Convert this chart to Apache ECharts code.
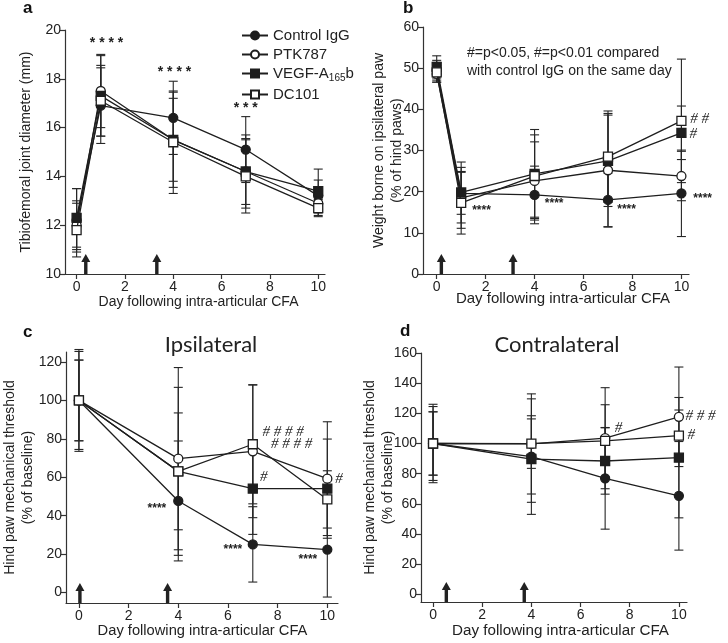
<!DOCTYPE html>
<html><head><meta charset="utf-8">
<script src="https://cdn.jsdelivr.net/npm/echarts@6/dist/echarts.min.js"></script>
<style>html,body{margin:0;padding:0;background:#fff}#c{width:728px;height:643px}</style>
</head><body><div id="c"></div>
<script>
// ---------- data ----------
const groups = ['Control IgG', 'PTK787', 'VEGF-A165b', 'DC101'];
const daysAB = [0, 1, 4, 7, 10];
const daysCD = [0, 4, 7, 10];
const xTicks = [0, 2, 4, 6, 8, 10];
const yTicksA = [10, 12, 14, 16, 18, 20];
const yTicksB = [0, 10, 20, 30, 40, 50, 60];
const yTicksC = [0, 20, 40, 60, 80, 100, 120];
const yTicksD = [0, 20, 40, 60, 80, 100, 120, 140, 160];
const xTitle = 'Day following intra-articular CFA';

// a: tibiofemoral joint diameter (mm), mean and SD
const aCtrl = [12.2, 16.9, 16.4, 15.1, 13.2];
const aCtrlSd = [1.3, 1.55, 1.5, 1.35, 0.65];
const aPtk = [12.0, 17.5, 15.5, 14.2, 12.9];
const aPtkSd = [1.0, 1.5, 1.7, 1.5, 0.5];
const aVegf = [12.3, 17.3, 15.5, 14.2, 13.4];
const aVegfSd = [1.2, 1.65, 1.95, 1.35, 0.9];
const aDc = [11.8, 17.1, 15.4, 14.0, 12.7];
const aDcSd = [1.1, 1.45, 2.1, 1.5, 0.35];

// b: weight borne on ipsilateral paw (%)
const bCtrl = [49.5, 19.6, 19.2, 18.0, 19.6];
const bCtrlSd = [2.4, 5.1, 7.0, 6.5, 10.5];
const bPtk = [48.6, 18.5, 22.6, 25.2, 23.8];
const bPtkSd = [2.0, 7.4, 9.5, 13.8, 6.0];
const bVegf = [50.3, 19.8, 24.3, 27.5, 34.3];
const bVegfSd = [2.7, 7.4, 10.8, 11.1, 6.5];
const bDc = [49.0, 17.3, 23.8, 28.5, 37.2];
const bDcSd = [2.4, 7.6, 10.0, 11.1, 15.0];

// c: ipsilateral mechanical threshold (% of baseline)
const cCtrl = [100, 47.7, 25.1, 22.4];
const cCtrlSd = [25.5, 31.2, 19.6, 24.7];
const cPtk = [100, 69.7, 73.5, 59.3];
const cPtkSd = [21, 47.4, 34.5, 29.6];
const cVegf = [100, 63.1, 54.1, 54.1];
const cVegfSd = [26.5, 30.4, 23.8, 25.8];
const cDc = [100, 63.1, 77.2, 48.5];
const cDcSd = [21, 43.7, 31, 14.9];

// d: contralateral mechanical threshold (% of baseline)
const dCtrl = [100, 91.3, 76.9, 65.3];
const dCtrlSd = [26, 38.3, 33.7, 36];
const dPtk = [100, 99.7, 103.5, 117.7];
const dPtkSd = [21, 33.2, 33.5, 33];
const dVegf = [100, 89.7, 88.4, 90.6];
const dVegfSd = [24.5, 28.7, 22, 39.9];
const dDc = [100, 99.9, 101.7, 105.2];
const dDcSd = [21, 16.4, 24, 17];

// injection days (arrows)
const arrowsA = [0.38, 3.32];
const arrowsB = [0.19, 3.12];
const arrowsC = [0.04, 3.57];
const arrowsD = [0.54, 3.71];

// significance annotations [day, value, text]
const starsA = [[1.24, 19.47, '* * * *'], [4.05, 18.29, '* * * *'], [7.0, 16.79, '* * *']];
const starsB = [[1.83, 15.5, '****'], [4.8, 17.1, '****'], [7.76, 15.7, '****'], [10.87, 18.4, '****']];
const hashB = [[10.74, 37.6, '# #'], [10.48, 34.1, '#']];
const starsC = [[3.14, 43.7, '****'], [6.2, 22.4, '****'], [9.22, 17.2, '****']];
const hashC = [[8.22, 83.6, '# # # #'], [8.56, 77.2, '# # # #'], [7.44, 60.2, '#'], [10.47, 59.3, '#']];
const hashD = [[7.54, 110.1, '#'], [10.88, 117.9, '# # #'], [10.5, 105.7, '#']];

// ---------- chart ----------
const INK = '#1e1e1e';
const FONT = 'Liberation Sans';
const measureCtx = document.createElement('canvas').getContext('2d');
function textWidth(text, font) { measureCtx.font = font; return measureCtx.measureText(text).width; }

const panels = [
  {days: daysAB, means: [aCtrl, aPtk, aVegf, aDc], sds: [aCtrlSd, aPtkSd, aVegfSd, aDcSd], arrows: arrowsA,
   notes: [{list: starsA, kind: 'starBig'}],
   grid: {left: 65, top: 30, width: 260, height: 244}, x: [-0.48, 10.28], y: [10, 20], yt: yTicksA,
   yname: 'Tibiofemoral joint diameter (mm)', ygap: 30, xn: {dx: 3.5, dy: 21, fs: 14}},
  {days: daysAB, means: [bCtrl, bPtk, bVegf, bDc], sds: [bCtrlSd, bPtkSd, bVegfSd, bDcSd], arrows: arrowsB,
   notes: [{list: starsB, kind: 'star'}, {list: hashB, kind: 'hash'}],
   grid: {left: 423, top: 27, width: 266, height: 247}, x: [-0.56, 10.31], y: [0, 60], yt: yTicksB,
   yname: 'Weight borne on ipsilateral paw\n(% of hind paws)', ygap: 17, xn: {dx: 7, dy: 17, fs: 15}},
  {days: daysCD, means: [cCtrl, cPtk, cVegf, cDc], sds: [cCtrlSd, cPtkSd, cVegfSd, cDcSd], arrows: arrowsC,
   notes: [{list: starsC, kind: 'star'}, {list: hashC, kind: 'hash'}],
   grid: {left: 66, top: 352, width: 272, height: 251}, x: [-0.52, 10.43], y: [-5.4, 125.2], yt: yTicksC,
   yname: 'Hind paw mechanical threshold\n(% of baseline)', ygap: 29, xn: {dx: 0.5, dy: 20, fs: 14.7}},
  {days: daysCD, means: [dCtrl, dPtk, dVegf, dDc], sds: [dCtrlSd, dPtkSd, dVegfSd, dDcSd], arrows: arrowsD,
   notes: [{list: hashD, kind: 'hash'}],
   grid: {left: 421, top: 353, width: 266, height: 249}, x: [-0.49, 10.33], y: [-5.1, 160], yt: yTicksD,
   yname: 'Hind paw mechanical threshold\n(% of baseline)', ygap: 24, xn: {dx: 6.5, dy: 21, fs: 15.2}}
];

const noteFont = {
  starBig: {font: 'bold 14px "Liberation Sans"'},
  star: {font: 'bold 12px "Liberation Sans"'},
  hash: {font: 'italic 15px "Liberation Serif"'}
};

const grids = [], xAxes = [], yAxes = [], series = [], xNames = [];

function errRender(params, api) {
  const x = api.value(0), lo = api.value(1), hi = api.value(2);
  const p1 = api.coord([x, hi]), p2 = api.coord([x, lo]);
  const w = 4.5;
  const st = {stroke: '#262626', lineWidth: 1.1};
  return {type: 'group', children: [
    {type: 'line', shape: {x1: p1[0], y1: p1[1], x2: p2[0], y2: p2[1]}, style: st},
    {type: 'line', shape: {x1: p1[0] - w, y1: p1[1], x2: p1[0] + w, y2: p1[1]}, style: st},
    {type: 'line', shape: {x1: p2[0] - w, y1: p2[1], x2: p2[0] + w, y2: p2[1]}, style: st}
  ]};
}

function arrowRender(params, api) {
  const cs = params.coordSys;
  const x = api.coord([api.value(0), api.value(1)])[0];
  const yb = cs.y + cs.height;
  const H = 20, hh = 8, hw = 4.5, sw = 1.7;
  return {type: 'polygon', shape: {points: [[x - sw, yb], [x - sw, yb - H + hh], [x - hw, yb - H + hh], [x, yb - H],
    [x + hw, yb - H + hh], [x + sw, yb - H + hh], [x + sw, yb]]}, style: {fill: '#222'}};
}

panels.forEach((p, gi) => {
  grids.push(Object.assign({containLabel: false}, p.grid));
  const xf = p.xn.fs + 'px "Liberation Sans"';
  const cx = p.grid.left + p.grid.width / 2 + p.xn.dx;
  xNames.push({type: 'text', x: cx - textWidth(xTitle, xf) / 2, y: p.grid.top + p.grid.height + p.xn.dy,
    style: {text: xTitle, font: xf, fill: '#222', align: 'left', verticalAlign: 'top'}});
  xAxes.push({
    type: 'value', gridIndex: gi, min: p.x[0], max: p.x[1],
    axisLine: {show: true, onZero: false, lineStyle: {color: '#333', width: 1.2}},
    axisTick: {show: true, length: 5, customValues: xTicks, lineStyle: {color: '#333', width: 1.2}},
    axisLabel: {customValues: xTicks, fontSize: 14, color: '#222', fontFamily: FONT, margin: 6},
    splitLine: {show: false}
  });
  yAxes.push({
    type: 'value', gridIndex: gi, min: p.y[0], max: p.y[1],
    name: p.yname, nameLocation: 'middle', nameGap: p.ygap, nameMoveOverlap: false,
    nameTextStyle: {fontSize: 14, color: '#222', fontFamily: FONT, lineHeight: 18},
    axisLine: {show: true, onZero: false, lineStyle: {color: '#333', width: 1.2}},
    axisTick: {show: true, length: 5, customValues: p.yt, lineStyle: {color: '#333', width: 1.2}},
    axisLabel: {customValues: p.yt, fontSize: 14, color: '#222', fontFamily: FONT, margin: 4},
    splitLine: {show: false}
  });
  // error bars
  groups.forEach((g, k) => {
    series.push({
      type: 'custom', xAxisIndex: gi, yAxisIndex: gi, renderItem: errRender, z: 1, silent: true,
      encode: {x: 0, y: [1, 2]}, clip: false,
      data: p.days.map((d, i) => [d, p.means[k][i] - p.sds[k][i], p.means[k][i] + p.sds[k][i]])
    });
  });
  // lines with markers
  groups.forEach((g, k) => {
    series.push({
      type: 'line', name: g, xAxisIndex: gi, yAxisIndex: gi,
      data: p.days.map((d, i) => [d, p.means[k][i]]),
      symbol: k < 2 ? 'circle' : 'rect', symbolSize: 9, showSymbol: true,
      lineStyle: {color: INK, width: 1.3},
      itemStyle: {color: k % 2 === 0 ? INK : '#fff', borderColor: INK, borderWidth: 1.3},
      z: 3 + k, emphasis: {disabled: true}, silent: true
    });
  });
  // arrows
  series.push({
    type: 'custom', xAxisIndex: gi, yAxisIndex: gi, renderItem: arrowRender, z: 2, silent: true,
    encode: {x: 0, y: 1}, clip: false,
    data: p.arrows.map(d => [d, p.y[0]])
  });
  // annotations
  p.notes.forEach(n => {
    series.push({
      type: 'custom', xAxisIndex: gi, yAxisIndex: gi, z: 6, silent: true, clip: false,
      encode: {x: 0, y: 1},
      data: n.list.map(r => [r[0], r[1]]),
      renderItem: (params, api) => {
        const c = api.coord([api.value(0), api.value(1)]);
        return {type: 'text', x: c[0], y: c[1], style: {text: n.list[params.dataIndex][2],
          font: noteFont[n.kind].font, fill: '#222', align: 'center', verticalAlign: 'middle'}};
      }
    });
  });
});

const option = {
  animation: false,
  backgroundColor: '#fff',
  grid: grids, xAxis: xAxes, yAxis: yAxes, series: series,
  legend: {
    data: groups, left: 236, top: 23, orient: 'vertical', itemWidth: 26, itemHeight: 10, itemGap: 4,
    selectedMode: false,
    textStyle: {fontSize: 15, color: '#222', fontFamily: FONT,
      rich: {sub: {fontSize: 10, fontFamily: FONT, color: '#222', padding: [9, 0, 0, 0]}}},
    formatter: n => n === 'VEGF-A165b' ? 'VEGF-A{sub|165}b' : n
  },
  graphic: xNames.concat([
    {type: 'text', left: 23, top: 0, style: {text: 'a', font: 'bold 17px "Liberation Sans"', fill: '#111'}},
    {type: 'text', left: 403, top: 0, style: {text: 'b', font: 'bold 17px "Liberation Sans"', fill: '#111'}},
    {type: 'text', left: 23, top: 324, style: {text: 'c', font: 'bold 17px "Liberation Sans"', fill: '#111'}},
    {type: 'text', left: 400, top: 323, style: {text: 'd', font: 'bold 17px "Liberation Sans"', fill: '#111'}},
    {type: 'text', x: 211, y: 345, style: {text: 'Ipsilateral', font: '22px Lato', fill: '#222', align: 'center', verticalAlign: 'middle'}},
    {type: 'text', x: 557, y: 345, style: {text: 'Contralateral', font: '22px Lato', fill: '#222', align: 'center', verticalAlign: 'middle'}},
    {type: 'text', left: 467, top: 44, style: {text: '#=p<0.05, #=p<0.01 compared\nwith control IgG on the same day', font: '14px "Liberation Sans"', lineHeight: 18, fill: '#222'}}
  ])
};

const chart = echarts.init(document.getElementById('c'), null, {renderer: 'canvas'});
chart.setOption(option);
</script>
</body></html>
